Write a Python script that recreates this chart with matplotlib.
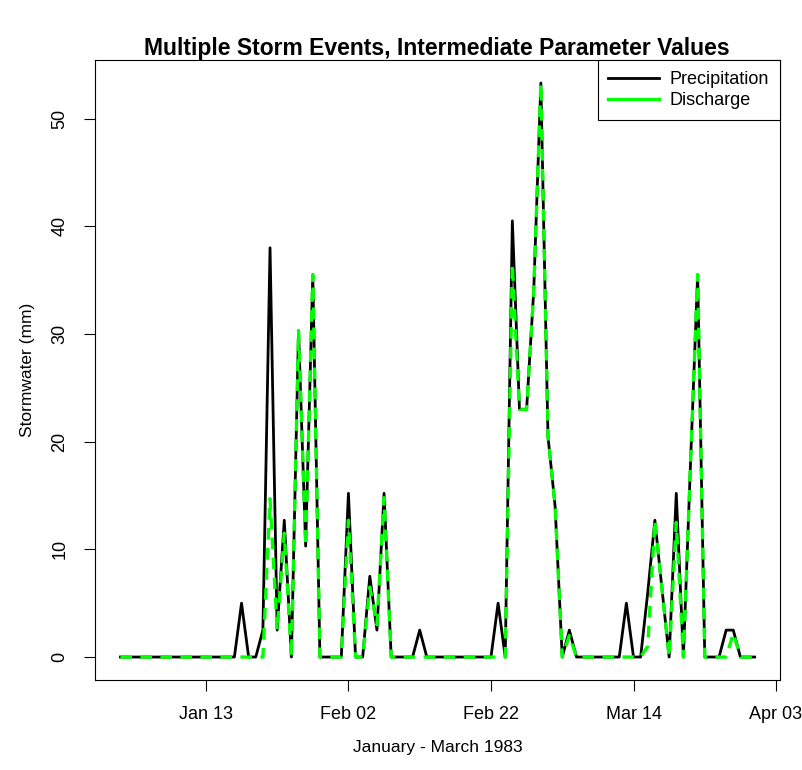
import numpy as np
import pandas as pd
import matplotlib
matplotlib.use("Agg")
import matplotlib.pyplot as plt
import matplotlib.dates as mdates

plt.rcParams['font.family'] = ['Liberation Sans', 'DejaVu Sans']

# daily values, 1 Jan - 31 Mar 1983 (mm)
days = pd.date_range("1983-01-01", "1983-03-31", freq="D")

precip = np.zeros(len(days))
discharge = np.zeros(len(days))

# day index -> precipitation
precip_events = {17: 5.0, 20: 2.5, 21: 38.0, 22: 2.5, 23: 12.7, 25: 30.3, 26: 10.3,
                 27: 35.5, 32: 15.2, 35: 7.5, 36: 2.5, 37: 15.2, 42: 2.5,
                 53: 5.0, 55: 40.5, 56: 23.0, 57: 23.0, 58: 34.0, 59: 53.3,
                 60: 20.5, 61: 14.0, 63: 2.5, 71: 5.0, 74: 6.0, 75: 12.7,
                 76: 6.3, 78: 15.2, 80: 18.0, 81: 35.5, 85: 2.5, 86: 2.5}
# day index -> discharge
discharge_events = {21: 14.7, 22: 2.5, 23: 11.5, 25: 30.3, 26: 10.3, 27: 35.5,
                    32: 12.7, 35: 6.5, 36: 3.0, 37: 14.8,
                    55: 36.5, 56: 23.0, 57: 23.0, 58: 34.0, 59: 53.3,
                    60: 20.5, 61: 14.0, 63: 2.0, 74: 1.0, 75: 12.7, 76: 6.3,
                    78: 12.5, 80: 18.0, 81: 35.5, 86: 2.2}

for d, v in precip_events.items():
    precip[d] = v
for d, v in discharge_events.items():
    discharge[d] = v

tick_dates = pd.to_datetime(["1983-01-13", "1983-02-02", "1983-02-22",
                             "1983-03-14", "1983-04-03"])

fig = plt.figure(figsize=(8.03, 7.70), dpi=100)
ax = fig.add_axes([0.1183, 0.1169, 0.8531, 0.8051])

ax.plot(days, precip, color="black", lw=2.0, label="Precipitation")
ax.plot(days, discharge, color="#00ff00", lw=2.4, ls=(0, (3.5, 2.5)), label="Discharge")

span = (days[-1] - days[0]) * 0.04
ax.set_xlim(days[0] - span, days[-1] + span)
ymax = precip.max()
ax.set_ylim(-0.04 * ymax, ymax * 1.04)

ax.set_xticks(tick_dates)
ax.xaxis.set_major_formatter(mdates.DateFormatter("%b %d"))
ax.set_yticks([0, 10, 20, 30, 40, 50])
ax.tick_params(direction="out", length=8, width=0.8, labelsize=13, pad=11)
for lab in ax.get_yticklabels():
    lab.set_rotation(90)
    lab.set_va("center")
for s in ax.spines.values():
    s.set_linewidth(0.8)

ax.set_xlabel("January - March 1983", fontsize=12.5, labelpad=12)
ax.set_ylabel("Stormwater (mm)", fontsize=12.5, labelpad=12)
fig.text(0.5445, 0.937, "Multiple Storm Events, Intermediate Parameter Values",
         ha="center", va="center", fontsize=16.5, fontweight="bold")

leg = ax.legend(loc="upper right", borderaxespad=0, fancybox=False,
                edgecolor="black", framealpha=1, fontsize=13,
                handlelength=2.8, handletextpad=0.6, borderpad=0.6,
                labelspacing=0.25)
leg.get_frame().set_linewidth(0.8)
leg.legend_handles[1].set_linestyle("-")

fig.savefig("out.png", dpi=100)
